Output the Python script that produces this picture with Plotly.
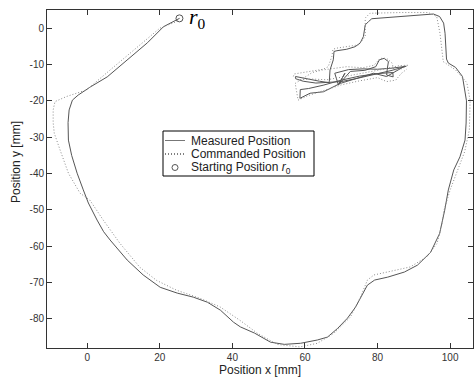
import plotly.graph_objects as go

# Measured position (solid)
meas_x = [25.4, 21.0, 16.6, 11.0, 5.5, 0.8, -2.5, -4.1, -5.0, -5.3, -5.2, -4.3, -2.8, -1.1, 0.3, 2.7, 4.5, 6.3,
          11.0, 15.4, 20.1, 24.8, 29.2, 33.1, 36.7, 40.3, 42.2, 46.1, 50.5, 54.3, 58.8, 63.4, 66.2, 69.0, 71.7,
          73.9, 75.9, 77.2, 79.2, 82.8, 87.4, 91.0, 94.6, 97.1, 98.5, 99.5, 101.0, 102.7, 104.1, 104.4, 104.5,
          103.4, 101.5, 99.5, 99.0, 98.6, 98.2, 97.1, 95.4, 89.9, 83.5, 78.4, 77.5, 76.6, 76.1, 75.2, 73.8, 71.5,
          68.8, 68.0, 67.8, 67.4, 66.9, 66.7,
          66.7, 64.0, 60.5, 57.4, 57.4, 59.5, 63.0, 68.8, 70.0, 74.0, 78.0, 81.0, 84.0, 87.8, 84.0, 80.0, 76.0,
          72.0, 68.2, 69.2, 71.0, 69.2, 72.5, 76.5, 79.5, 80.5, 81.8, 83.0, 82.7, 82.5, 84.3, 84.2, 80.0, 75.0,
          70.0, 65.0, 61.0, 58.7, 58.6, 61.4, 65.1, 69.7, 74.3, 78.9, 82.5, 87.6]
meas_y = [2.7, 0.4, -4.0, -8.7, -13.4, -16.2, -18.4, -19.8, -22.5, -26.0, -30.8, -35.0, -39.9, -44.5, -48.1, -52.8,
          -56.0, -58.3, -63.8, -67.9, -71.3, -72.9, -74.0, -75.4, -77.6, -80.9, -82.2, -83.9, -86.4, -87.0, -86.7,
          -85.8, -85.0, -82.6, -79.8, -76.8, -72.9, -70.7, -69.3, -68.5, -67.1, -65.2, -61.7, -56.5, -50.1, -44.5,
          -39.0, -35.4, -30.8, -26.1, -20.0, -13.3, -10.8, -9.6, -8.5, -1.4, 1.4, 3.2, 3.9, 3.5, 3.0, 2.6, 1.8,
          0.9, -2.3, -4.1, -5.1, -5.8, -6.2, -6.4, -8.7, -10.1, -11.5, -14.7,
          -15.0, -14.6, -14.0, -13.3, -13.9, -14.6, -15.1, -14.7, -14.7, -13.9, -13.0, -12.3, -11.6, -10.5, -11.0,
          -11.3, -11.2, -11.4, -12.4, -15.6, -12.4, -15.6, -11.9, -11.6, -10.6, -8.7, -8.3, -9.2, -11.0, -12.9,
          -13.4, -12.2, -12.5, -13.2, -14.3, -15.7, -16.6, -16.9, -19.3, -17.9, -17.5, -15.2, -13.8, -12.4, -13.3,
          -10.4]

# Commanded position (dotted)
cmd_x = [25.4, 24.6, 20.0, 12.7, 6.3, -0.2, -5.7, -8.9, -9.4, -9.4, -9.1, -7.5, -5.2, -2.0, 0.7, 4.4, 9.0, 14.5,
         19.1, 24.6, 31.0, 36.6, 42.1, 46.8, 52.3, 58.6, 63.4, 67.9, 72.5, 75.3, 77.2, 79.0, 83.5, 89.0, 93.6,
         96.4, 97.8, 98.3, 100.0, 102.0, 104.0, 105.3, 105.5, 104.6, 101.5, 98.1, 97.2, 96.3, 94.0, 86.2, 77.9,
         76.6, 76.6, 75.9, 74.7, 68.7, 67.7, 67.4, 66.4,
         65.0, 61.0, 57.0, 56.8, 58.0, 62.0, 66.0, 70.0, 74.0, 78.0, 82.0, 86.0, 88.5, 86.5, 84.5, 84.0, 82.5,
         80.7, 79.0, 76.0, 71.5, 64.8, 62.0, 57.3, 57.7, 58.1, 61.0, 65.0, 70.0, 75.0, 80.0, 82.5, 85.0, 86.5, 88.0]
cmd_y = [2.7, 1.8, 0.0, -6.0, -11.5, -17.0, -18.8, -20.2, -22.5, -26.0, -28.9, -33.5, -39.9, -45.4, -47.3, -52.8,
         -59.2, -65.8, -69.4, -72.1, -74.3, -76.7, -80.4, -83.9, -87.0, -87.7, -86.7, -84.0, -79.5, -74.0, -69.3,
         -67.9, -67.0, -65.7, -62.9, -59.2, -53.7, -50.1, -44.5, -39.0, -34.0, -28.0, -19.8, -15.0, -11.5, -9.2,
         -1.4, 3.2, 4.3, 4.3, 4.1, 2.8, -2.3, -3.2, -4.6, -5.5, -5.8, -7.8, -10.6,
         -11.3, -11.9, -12.6, -13.3, -14.2, -14.0, -14.2, -13.5, -12.8, -12.0, -11.2, -10.3, -10.2, -11.2, -11.5,
         -9.6, -8.3, -8.3, -10.2, -10.9, -10.6, -11.5, -12.2, -15.2, -17.9, -19.8, -18.5, -17.3, -15.6, -14.5,
         -13.6, -14.7, -14.3, -12.5, -11.3]

start_x = [25.4]
start_y = [2.7]

x_ticks = [0, 20, 40, 60, 80, 100]
y_ticks = [0, -10, -20, -30, -40, -50, -60, -70, -80]

legend_labels = ["Measured Position", "Commanded Position", "Starting Position <i>r</i><sub>0</sub>"]

FONT = "Liberation Sans"
MEAS_COLOR = "#555555"
CMD_COLOR = "#8c8c8c"

W, H = 474, 378
ML, MR, MT, MB = 47, 1, 10, 30
PW, PH = W - ML - MR, H - MT - MB


def px_x(p):
    return (p - ML) / PW


def px_y(p):
    return 1 - (p - MT) / PH


fig = go.Figure()
fig.add_trace(go.Scatter(x=meas_x, y=meas_y, mode="lines", name=legend_labels[0], showlegend=False,
                         line=dict(color=MEAS_COLOR, width=1)))
fig.add_trace(go.Scatter(x=cmd_x, y=cmd_y, mode="lines", name=legend_labels[1], showlegend=False,
                         line=dict(color=CMD_COLOR, width=1, dash="1px,2px")))
fig.add_trace(go.Scatter(x=start_x, y=start_y, mode="markers", name=legend_labels[2], showlegend=False,
                         marker=dict(symbol="circle-open", size=7, color=MEAS_COLOR, line=dict(width=1))))

fig.add_annotation(x=start_x[0] + 2.0, y=start_y[0], xref="x", yref="y", xanchor="left", yanchor="middle",
                   text="<i>r</i><sub>0</sub>", showarrow=False,
                   font=dict(family="Liberation Serif", size=22, color="black"))

fig.add_annotation(x=px_x(16), y=px_y(162), xref="paper", yref="paper", text="Position y [mm]", textangle=-90,
                   showarrow=False, xanchor="center", yanchor="middle",
                   font=dict(family=FONT, size=12, color="#222222"))

# Hand-drawn legend box (mimicking the original MATLAB legend)
fig.add_shape(type="rect", xref="paper", yref="paper", x0=px_x(163), x1=px_x(314), y0=px_y(131), y1=px_y(176),
              line=dict(color="black", width=1), fillcolor="white", layer="above")
rows = [140.5, 154, 167.5]
fig.add_shape(type="line", xref="paper", yref="paper", x0=px_x(165), x1=px_x(185), y0=px_y(rows[0]),
              y1=px_y(rows[0]), line=dict(color="#777777", width=1), layer="above")
fig.add_shape(type="line", xref="paper", yref="paper", x0=px_x(165), x1=px_x(185), y0=px_y(rows[1]),
              y1=px_y(rows[1]), line=dict(color="black", width=1, dash="1px,2px"), layer="above")
fig.add_shape(type="circle", xref="paper", yref="paper", xsizemode="pixel", ysizemode="pixel",
              xanchor=px_x(175), yanchor=px_y(rows[2]), x0=-3, x1=3, y0=-3, y1=3,
              line=dict(color=MEAS_COLOR, width=1), layer="above")
for lab, r in zip(legend_labels, rows):
    fig.add_annotation(x=px_x(189), y=px_y(r), xref="paper", yref="paper", xanchor="left", yanchor="middle",
                       text=lab, showarrow=False, font=dict(family=FONT, size=12, color="#222222"))

axis_common = dict(showgrid=False, zeroline=False, showline=True, linecolor="#333333", linewidth=1,
                   mirror="ticks", ticks="inside", ticklen=5, tickcolor="#333333", automargin=False,
                   tickfont=dict(family=FONT, size=10, color="#333333"))

fig.update_xaxes(range=[-11.1, 106.3], tickvals=x_ticks, ticktext=[str(v) for v in x_ticks],
                 title=dict(text="Position x [mm]", font=dict(family=FONT, size=12, color="#222222"), standoff=2),
                 **axis_common)
fig.update_yaxes(range=[-88, 5], tickvals=y_ticks, ticktext=[str(v) for v in y_ticks], **axis_common)

fig.update_layout(
    width=W, height=H,
    margin=dict(l=ML, r=MR, t=MT, b=MB, autoexpand=False),
    paper_bgcolor="white", plot_bgcolor="white",
    font=dict(family=FONT, size=11, color="#222222"),
    showlegend=False,
)

fig.write_html("out.html", config={"displayModeBar": False},
               post_script="document.body.style.margin='0px';document.body.style.padding='0px';")
